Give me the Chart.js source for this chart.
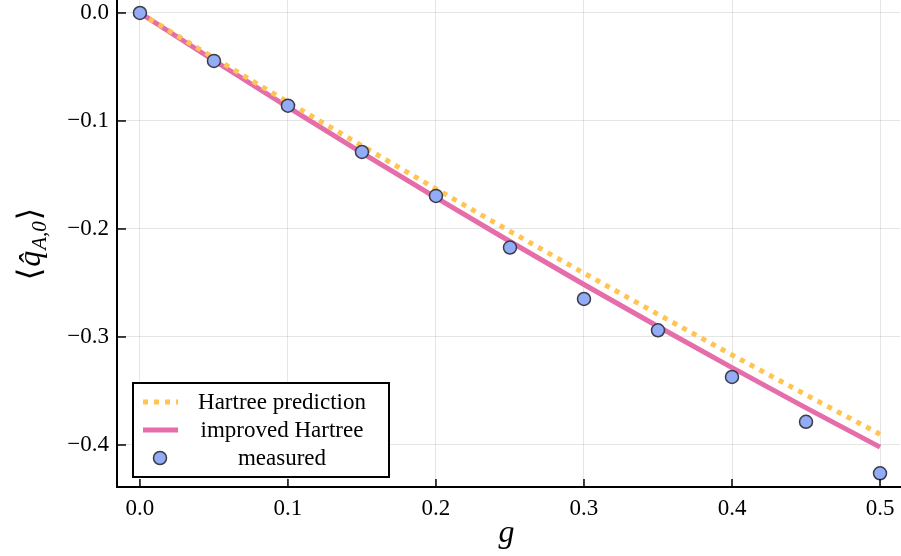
<!DOCTYPE html>
<html>
<head>
<meta charset="utf-8">
<script src="https://cdn.jsdelivr.net/npm/chart.js@4.4.1/dist/chart.umd.min.js"></script>
<style>
  html, body { margin: 0; padding: 0; background: #fff; }
  #wrap { width: 901px; height: 556px; }
</style>
</head>
<body>
<div id="wrap"><canvas id="myChart" width="901" height="556"></canvas></div>
<script>
// values
var gValues = [0, 0.05, 0.1, 0.15, 0.2, 0.25, 0.3, 0.35, 0.4, 0.45, 0.5];
var measured = [0, -0.0444, -0.0858, -0.1287, -0.1694, -0.2172, -0.2648, -0.2938, -0.3370, -0.3785, -0.4262];
var hartree = [0, -0.0416, -0.0826, -0.1230, -0.1629, -0.2022, -0.2409, -0.2790, -0.3166, -0.3536, -0.3900];
var improved = [0, -0.0440, -0.0872, -0.1295, -0.1710, -0.2116, -0.2514, -0.2903, -0.3284, -0.3656, -0.4020];
var xTicks = [0, 0.1, 0.2, 0.3, 0.4, 0.5];
var yTicks = [0, -0.1, -0.2, -0.3, -0.4];

var serif = "'Liberation Serif', 'DejaVu Serif', serif";

function pts(ys) {
  var out = [];
  for (var i = 0; i < gValues.length; i++) out.push({x: gValues[i], y: ys[i]});
  return out;
}

function fmt(v) {
  var s = Math.abs(v).toFixed(1);
  return (v < -1e-9 ? "\u2212" : "") + s;
}

// inward tick marks, axis labels and boxed legend
var decor = {
  id: "decor",
  afterDatasetsDraw: function (chart) {
    var ctx = chart.ctx, a = chart.chartArea;
    var xs = chart.scales.x, ys = chart.scales.y;
    ctx.save();
    ctx.strokeStyle = "#000";
    ctx.lineWidth = 1.5;
    xTicks.forEach(function (t) {
      var px = xs.getPixelForValue(t);
      ctx.beginPath(); ctx.moveTo(px, a.bottom); ctx.lineTo(px, a.bottom - 8); ctx.stroke();
    });
    yTicks.forEach(function (t) {
      var py = ys.getPixelForValue(t);
      ctx.beginPath(); ctx.moveTo(a.left, py); ctx.lineTo(a.left + 9, py); ctx.stroke();
    });

    // legend box
    var bx = 133, by = 383, bw = 256, bh = 94;
    ctx.fillStyle = "#fff";
    ctx.fillRect(bx, by, bw, bh);
    ctx.lineWidth = 2;
    ctx.strokeRect(bx, by, bw, bh);
    var ds = chart.data.datasets;
    var rows = [402, 430, 458];
    var order = [1, 2, 0];
    ctx.font = "23px " + serif;
    ctx.textAlign = "center";
    ctx.textBaseline = "middle";
    order.forEach(function (di, r) {
      var d = ds[di], y = rows[r];
      if (d.showLine === false) {
        ctx.beginPath();
        ctx.arc(160, y, d.pointRadius, 0, Math.PI * 2);
        ctx.fillStyle = d.pointBackgroundColor;
        ctx.fill();
        ctx.lineWidth = d.pointBorderWidth;
        ctx.strokeStyle = d.pointBorderColor;
        ctx.stroke();
      } else {
        ctx.beginPath();
        ctx.setLineDash(d.borderDash || []);
        ctx.lineWidth = d.borderWidth;
        ctx.strokeStyle = d.borderColor;
        ctx.moveTo(143, y); ctx.lineTo(178, y);
        ctx.stroke();
        ctx.setLineDash([]);
      }
      ctx.fillStyle = "#000";
      ctx.fillText(d.label, 282, y + 1);
    });

    // x axis label
    ctx.font = "italic 32px " + serif;
    ctx.fillText("g", (a.left + a.right) / 2 - 2, 534);

    // y axis label  <q^_{A,0}>
    ctx.translate(30, (a.top + a.bottom) / 2);
    ctx.rotate(-Math.PI / 2);
    ctx.textAlign = "left";
    ctx.textBaseline = "alphabetic";
    var parts = [
      {t: "\u27E8", f: "32px " + serif, dy: 0},
      {t: "q\u0302", f: "italic 32px " + serif, dy: 0},
      {t: "A,0", f: "italic 21px " + serif, dy: 6},
      {t: "\u27E9", f: "32px " + serif, dy: 0}
    ];
    var w = 0;
    parts.forEach(function (p) { ctx.font = p.f; w += ctx.measureText(p.t).width + 1; });
    var cx = -w / 2;
    parts.forEach(function (p) {
      ctx.font = p.f;
      ctx.fillText(p.t, cx, 10 + p.dy);
      cx += ctx.measureText(p.t).width + 1;
    });
    ctx.restore();
  }
};

var ctx = document.getElementById("myChart").getContext("2d");
var myChart = new Chart(ctx, {
  type: "scatter",
  data: {
    datasets: [{
      label: "measured",
      data: pts(measured),
      showLine: false,
      pointRadius: 6.5,
      pointHoverRadius: 6.5,
      pointBackgroundColor: "rgb(146,172,247)",
      pointBorderColor: "rgb(60,60,70)",
      pointBorderWidth: 1.5,
      order: 0
    }, {
      label: "Hartree prediction",
      data: pts(hartree),
      showLine: true,
      borderColor: "rgb(255,196,82)",
      borderWidth: 5,
      borderDash: [5, 6],
      borderCapStyle: "butt",
      pointRadius: 0,
      order: 1
    }, {
      label: "improved Hartree",
      data: pts(improved),
      showLine: true,
      borderColor: "rgb(229,110,170)",
      borderWidth: 5,
      pointRadius: 0,
      order: 2
    }]
  },
  options: {
    responsive: false,
    animation: false,
    layout: { autoPadding: false, padding: { left: 0, right: 1, top: 0, bottom: 0 } },
    plugins: { legend: { display: false }, tooltip: { enabled: false } },
    scales: {
      x: {
        type: "linear",
        min: -0.0155,
        max: 0.5135,
        afterFit: function (s) { s.height = 69; s.paddingLeft = 0; s.paddingRight = 0; },
        afterBuildTicks: function (s) { s.ticks = xTicks.map(function (v) { return {value: v}; }); },
        grid: { color: "rgba(0,0,0,0.1)", lineWidth: 1, drawTicks: false },
        border: { color: "#000", width: 2 },
        ticks: {
          padding: 8,
          color: "#000",
          font: { family: serif, size: 23 },
          callback: function (v) { return fmt(v); }
        }
      },
      y: {
        type: "linear",
        min: -0.4389,
        max: 0.012,
        afterFit: function (s) { s.width = 117; s.paddingTop = 0; s.paddingBottom = 0; },
        afterBuildTicks: function (s) { s.ticks = yTicks.map(function (v) { return {value: v}; }); },
        grid: { color: "rgba(0,0,0,0.1)", lineWidth: 1, drawTicks: false },
        border: { color: "#000", width: 2 },
        ticks: {
          padding: 8,
          color: "#000",
          font: { family: serif, size: 23 },
          callback: function (v) { return fmt(v); }
        }
      }
    }
  },
  plugins: [decor]
});
</script>
</body>
</html>
